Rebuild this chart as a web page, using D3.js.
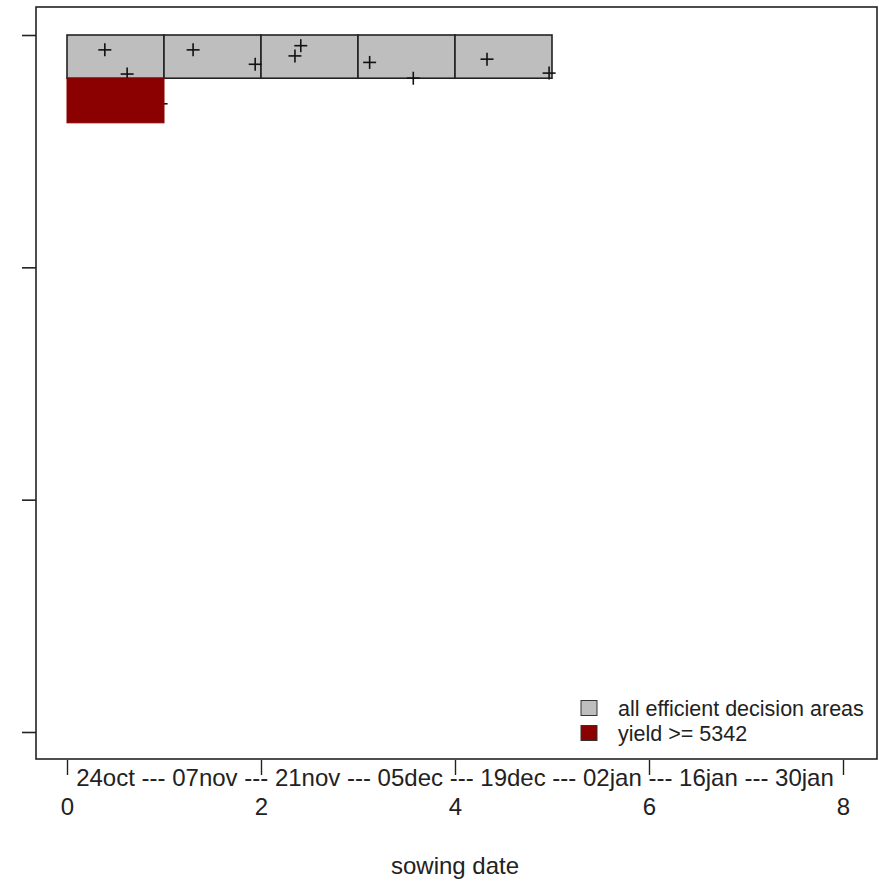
<!DOCTYPE html>
<html>
<head>
<meta charset="utf-8">
<script src="https://cdn.jsdelivr.net/npm/d3@7"></script>
<style>
  html, body { margin: 0; padding: 0; background: #fff; }
  svg { display: block; font-family: "Liberation Sans", Arial, Helvetica, sans-serif; }
</style>
</head>
<body>
<svg id="chart" width="879" height="882"></svg>
<script>
// ---- data ----
const dateLabels = ["24oct", "07nov", "21nov", "05dec", "19dec", "02jan", "16jan", "30jan"];
const xTicks = [0, 2, 4, 6, 8];
const yTicks = [0, 5, 10, 15];
// efficient decision areas: [x0, x1, y0, y1]
const grayAreas = [
  [0, 1, 0, 0.93],
  [1, 2, 0, 0.93],
  [2, 3, 0, 0.93],
  [3, 4, 0, 0.93],
  [4, 5, 0, 0.93]
];
const redAreas = [
  [0, 1, 0.93, 1.89]
];
const pointsX = [0.39, 0.62, 1.30, 1.94, 2.41, 2.35, 0.97, 3.12, 3.57, 4.33, 4.97];
const pointsY = [0.32, 0.84, 0.32, 0.63, 0.23, 0.45, 1.48, 0.59, 0.93, 0.52, 0.82];
const legendItems = ["all efficient decision areas", "yield >= 5342"];
const legendColors = ["#bebebe", "#8b0000"];
const xTitle = "sowing date";

// ---- layout ----
const svg = d3.select("#chart");
const box = { left: 36, right: 877, top: 7, bottom: 759 };
const x = d3.scaleLinear().domain([0, 8]).range([67, 843]);
const y = d3.scaleLinear().domain([0, 15]).range([35, 732]);

// gray areas
svg.append("g").selectAll("rect").data(grayAreas).join("rect")
  .attr("x", d => x(d[0])).attr("y", d => y(d[2]))
  .attr("width", d => x(d[1]) - x(d[0])).attr("height", d => y(d[3]) - y(d[2]))
  .attr("fill", legendColors[0]).attr("stroke", "#222").attr("stroke-width", 1.6);

// points (pch 3)
const pts = pointsX.map((v, i) => [v, pointsY[i]]);
const pg = svg.append("g").attr("stroke", "#111").attr("stroke-width", 1.6);
pts.forEach(p => {
  const cx = x(p[0]), cy = y(p[1]), r = 6.5;
  pg.append("line").attr("x1", cx - r).attr("x2", cx + r).attr("y1", cy).attr("y2", cy);
  pg.append("line").attr("x1", cx).attr("x2", cx).attr("y1", cy - r).attr("y2", cy + r);
});

// red areas (drawn over points)
svg.append("g").selectAll("rect").data(redAreas).join("rect")
  .attr("x", d => x(d[0])).attr("y", d => y(d[2]))
  .attr("width", d => x(d[1]) - x(d[0])).attr("height", d => y(d[3]) - y(d[2]))
  .attr("fill", legendColors[1]).attr("stroke", "#8b0000").attr("stroke-width", 1);

// plot frame
svg.append("rect")
  .attr("x", box.left).attr("y", box.top)
  .attr("width", box.right - box.left).attr("height", box.bottom - box.top)
  .attr("fill", "none").attr("stroke", "#222").attr("stroke-width", 1.6);

// y axis ticks (no labels)
const yAxis = d3.axisLeft(y).tickValues(yTicks).tickSize(14).tickFormat("");
const gy = svg.append("g").attr("transform", `translate(${box.left},0)`).call(yAxis);
gy.select(".domain").remove();
gy.selectAll("line").attr("stroke", "#222").attr("stroke-width", 1.6);

// x axis ticks
const xAxis = d3.axisBottom(x).tickValues(xTicks).tickSize(15).tickPadding(22).tickFormat(d3.format("d"));
const gx = svg.append("g").attr("transform", `translate(0,${box.bottom + 1})`).call(xAxis);
gx.select(".domain").remove();
gx.selectAll("line").attr("stroke", "#222").attr("stroke-width", 1.4);
gx.selectAll("text").attr("font-size", 24).attr("fill", "#222")
  .attr("font-family", "'Liberation Sans', Arial, sans-serif")
  .attr("dy", null).attr("y", 55);

// date string
svg.append("text").attr("x", x(4)).attr("y", 786).attr("text-anchor", "middle")
  .attr("font-size", 24).attr("fill", "#222")
  .text(dateLabels.join(" --- "));

// x title
svg.append("text").attr("x", x(4)).attr("y", 874).attr("text-anchor", "middle")
  .attr("font-size", 24).attr("fill", "#222").text(xTitle);

// legend
const lg = svg.append("g");
legendItems.forEach((t, i) => {
  const cy = 708 + i * 25;
  lg.append("rect").attr("x", 581).attr("y", cy - 7.5).attr("width", 16).attr("height", 15)
    .attr("fill", legendColors[i]).attr("stroke", "#333").attr("stroke-width", 1);
  lg.append("text").attr("x", 618).attr("y", cy + 8).attr("font-size", 21.5).attr("fill", "#222").text(t);
});
</script>
</body>
</html>
